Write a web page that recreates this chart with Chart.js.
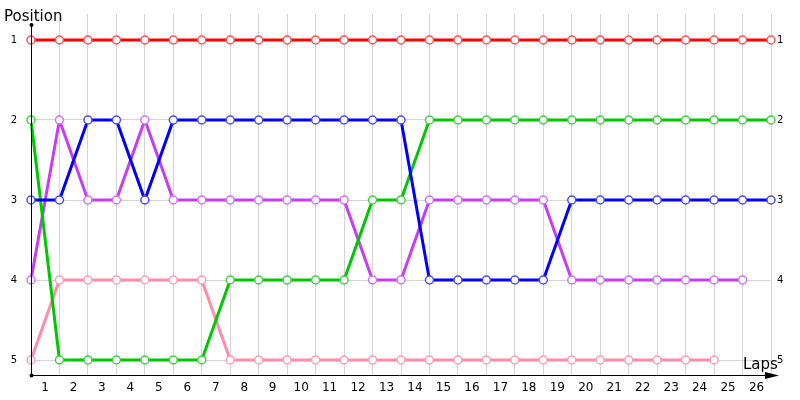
<!DOCTYPE html>
<html>
<head>
<meta charset="utf-8">
<script src="https://cdn.jsdelivr.net/npm/chart.js@4"></script>
<style>
  html, body { margin: 0; padding: 0; background: #fff; }
  #wrap { width: 800px; height: 400px; }
</style>
</head>
<body>
<div id="wrap"><canvas id="myChart"></canvas></div>
<script>
// lap index 0..26, labels shown between gridlines
var lapLabels = ["1","2","3","4","5","6","7","8","9","10","11","12","13","14","15","16","17","18","19","20","21","22","23","24","25","26"];
var positions = [1, 2, 3, 4, 5];

var redPos     = [1,1,1,1,1,1,1,1,1,1,1,1,1,1,1,1,1,1,1,1,1,1,1,1,1,1,1];
var greenPos   = [2,5,5,5,5,5,5,4,4,4,4,4,3,3,2,2,2,2,2,2,2,2,2,2,2,2,2];
var bluePos    = [3,3,2,2,3,2,2,2,2,2,2,2,2,2,4,4,4,4,4,3,3,3,3,3,3,3,3];
var magentaPos = [4,2,3,3,2,3,3,3,3,3,3,3,4,4,3,3,3,3,3,4,4,4,4,4,4,4,null];
var pinkPos    = [5,4,4,4,4,4,4,5,5,5,5,5,5,5,5,5,5,5,5,5,5,5,5,5,5,null,null];

function pts(arr) {
  return arr.map(function (v, i) { return { x: i, y: v }; });
}

function line(data, col, mark) {
  return {
    data: pts(data),
    borderColor: col,
    borderWidth: 3,
    backgroundColor: "#fff",
    pointBackgroundColor: "#fff",
    pointBorderColor: mark,
    pointBorderWidth: 1.5,
    pointRadius: 4,
    tension: 0,
    spanGaps: false,
    clip: false
  };
}

// axes, arrow, titles
var decor = {
  id: "decor",
  afterDraw: function (chart) {
    var c = chart.ctx, a = chart.chartArea;
    var x0 = a.left, y0 = a.bottom;
    c.save();
    c.strokeStyle = "#000";
    c.fillStyle = "#000";
    c.lineWidth = 1;
    c.beginPath();
    c.moveTo(x0 + 0.5, 25);
    c.lineTo(x0 + 0.5, y0);
    c.moveTo(x0, y0 + 0.5);
    c.lineTo(768, y0 + 0.5);
    c.stroke();
    c.beginPath();
    c.moveTo(765, y0 - 3);
    c.lineTo(779, y0 + 0.5);
    c.lineTo(765, y0 + 4);
    c.closePath();
    c.fill();
    c.beginPath();
    c.arc(x0 + 0.5, 25, 2, 0, Math.PI * 2);
    c.arc(x0 + 0.5, y0 + 0.5, 2, 0, Math.PI * 2);
    c.fill();
    c.font = "15px 'DejaVu Sans'";
    c.textBaseline = "alphabetic";
    c.textAlign = "left";
    c.fillText("Position", 4, 21);
    c.fillText("Laps", 743, 369);
    c.restore();
  }
};

function noPad(s) { s.paddingTop = 0; s.paddingBottom = 0; }

new Chart("myChart", {
  type: "line",
  data: {
    datasets: [
      line(bluePos, "#0000ff", "#4a4aff"),
      line(greenPos, "#00c800", "#40d040"),
      line(magentaPos, "#c83cf5", "#d070ff"),
      line(redPos, "#ff0000", "#ff5050"),
      line(pinkPos, "#ff8caa", "#ff9ab8")
    ]
  },
  plugins: [decor],
  options: {
    responsive: true,
    maintainAspectRatio: false,
    animation: false,
    layout: { padding: { top: 14, left: 0, right: 0, bottom: 0 } },
    plugins: { legend: { display: false }, tooltip: { enabled: false } },
    scales: {
      x: {
        type: "linear",
        min: 0,
        max: 26,
        border: { display: false },
        grid: {
          drawTicks: false,
          color: function (ctx) { return ctx.tick && ctx.tick.value === 0 ? "rgba(0,0,0,0)" : "#d4d4d4"; }
        },
        afterBuildTicks: function (s) {
          s.ticks = lapLabels.concat([""]).map(function (t, i) { return { value: i }; });
        },
        afterFit: function (s) { s.height = 25; },
        ticks: {
          autoSkip: false,
          maxRotation: 0,
          padding: 6,
          labelOffset: 14,
          color: "#000",
          font: { family: "DejaVu Sans", size: 12 },
          callback: function (v) { return lapLabels[v] || ""; }
        }
      },
      y: {
        position: "left",
        reverse: true,
        min: 0.675,
        max: 5.1875,
        border: { display: false },
        grid: { drawTicks: false, color: "#d4d4d4" },
        afterBuildTicks: function (s) {
          s.ticks = positions.map(function (v) { return { value: v }; });
        },
        afterFit: function (s) { s.width = 31; noPad(s); },
        ticks: {
          padding: 14,
          color: "#000",
          font: { family: "DejaVu Sans", size: 10 },
          callback: function (v) { return String(v); }
        }
      },
      y2: {
        position: "right",
        reverse: true,
        min: 0.675,
        max: 5.1875,
        border: { display: false },
        grid: { display: false, drawTicks: false },
        afterBuildTicks: function (s) {
          s.ticks = positions.map(function (v) { return { value: v }; });
        },
        afterFit: function (s) { s.width = 29; noPad(s); },
        ticks: {
          padding: 6,
          color: "#000",
          font: { family: "DejaVu Sans", size: 10 },
          callback: function (v) { return String(v); }
        }
      }
    }
  }
});
</script>
</body>
</html>
